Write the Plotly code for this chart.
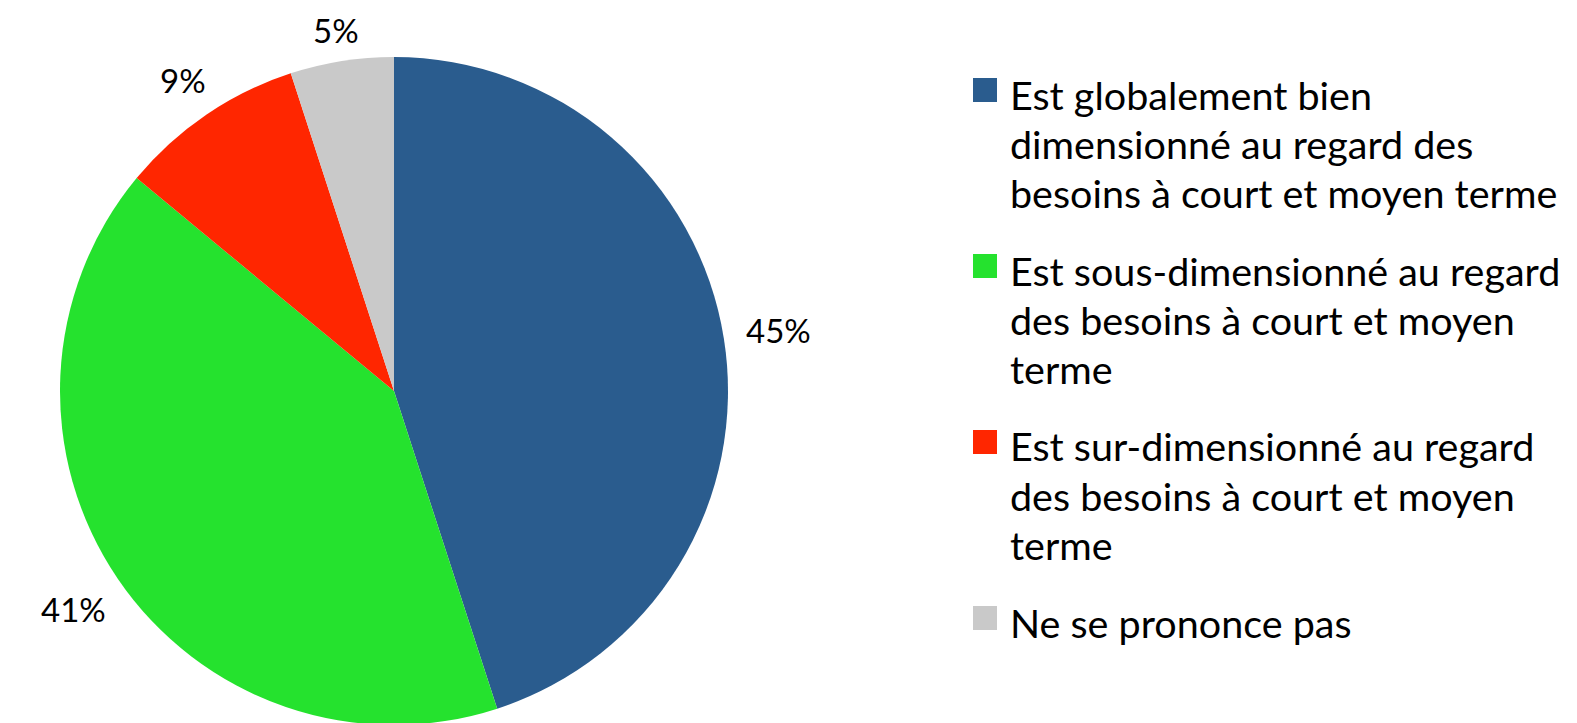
import math
import plotly.graph_objects as go

# ---------------- data ----------------
categories = [
    "Est globalement bien<br>dimensionné au regard des<br>besoins à court et moyen terme",
    "Est sous-dimensionné au regard<br>des besoins à court et moyen<br>terme",
    "Est sur-dimensionné au regard<br>des besoins à court et moyen<br>terme",
    "Ne se prononce pas",
]
values = [45, 41, 9, 5]
colors = ["#2A5C8E", "#25E22E", "#FF2600", "#C9C9C9"]

# ---------------- layout constants (figure pixels) ----------------
W, H = 1577, 723
FONT = "Lato"
FS_LABEL = 33
FS_LEG = 39.5
OFF = 8  # default page body margin

PIE_L, PIE_R, PIE_T, PIE_B = 60 - OFF, 728 - OFF, 57 - OFF, 725 - OFF
cx = (PIE_L + PIE_R) / 2
cy = (PIE_T + PIE_B) / 2
R = min(PIE_R - PIE_L, PIE_B - PIE_T) / 2
GAP = 22

LEG_SQ_X = 973 - OFF
LEG_SQ = 24
LEG_TXT_X = 1009 - OFF
LEG_FIRST = 94 - OFF
LINE_H = 49
ENTRY_GAP = 29


def px(x):
    return x / W


def py(y):
    return 1 - y / H


fig = go.Figure(
    go.Pie(
        labels=[c.replace("<br>", " ") for c in categories],
        values=values,
        marker=dict(colors=colors, line=dict(width=0)),
        sort=False,
        direction="clockwise",
        rotation=0,
        textinfo="none",
        hoverinfo="label+percent",
        showlegend=False,
        domain=dict(x=[px(PIE_L), px(PIE_R)], y=[py(PIE_B), py(PIE_T)]),
    )
)

annotations = []
shapes = []

# percentage labels placed outside each slice at its mid-angle
total = sum(values)
cum = 0
for v in values:
    mid = (cum + v / 2) / total * 2 * math.pi
    cum += v
    txt = f"{round(v / total * 100)}%"
    hw = len(txt) * 0.64 * FS_LABEL / 2
    hh = 10
    s, c = math.sin(mid), math.cos(mid)
    d = R + GAP + hw * abs(s) + hh * abs(c)
    x = cx + d * s
    y = cy - d * c
    # keep the label's text box inside the figure
    y = max(y, FS_LABEL * 0.68)
    annotations.append(dict(
        x=px(x), y=py(y), xref="paper", yref="paper", text=txt, showarrow=False,
        xanchor="center", yanchor="middle", borderpad=0,
        font=dict(family=FONT, size=FS_LABEL, color="#000000"),
    ))

# legend drawn from categories / colors
line_idx = 0
for i, (cat, col) in enumerate(zip(categories, colors)):
    lines = cat.split("<br>")
    first = LEG_FIRST + line_idx * LINE_H + i * ENTRY_GAP
    sq_c = first - 4
    shapes.append(dict(
        type="rect", xref="paper", yref="paper",
        x0=px(LEG_SQ_X), x1=px(LEG_SQ_X + LEG_SQ),
        y0=py(sq_c + LEG_SQ / 2), y1=py(sq_c - LEG_SQ / 2),
        fillcolor=col, line=dict(width=0),
    ))
    for j, ln in enumerate(lines):
        annotations.append(dict(
            x=px(LEG_TXT_X), y=py(first + j * LINE_H), xref="paper", yref="paper",
            text=ln, showarrow=False, xanchor="left", yanchor="middle", borderpad=0,
            font=dict(family=FONT, size=FS_LEG, color="#000000"),
        ))
    line_idx += len(lines)

fig.update_layout(
    width=W, height=H,
    margin=dict(l=0, r=0, t=0, b=0),
    paper_bgcolor="white", plot_bgcolor="white",
    annotations=annotations, shapes=shapes,
    showlegend=False,
    font=dict(family=FONT, size=FS_LEG, color="#000000"),
)

fig.write_html("out.html")
